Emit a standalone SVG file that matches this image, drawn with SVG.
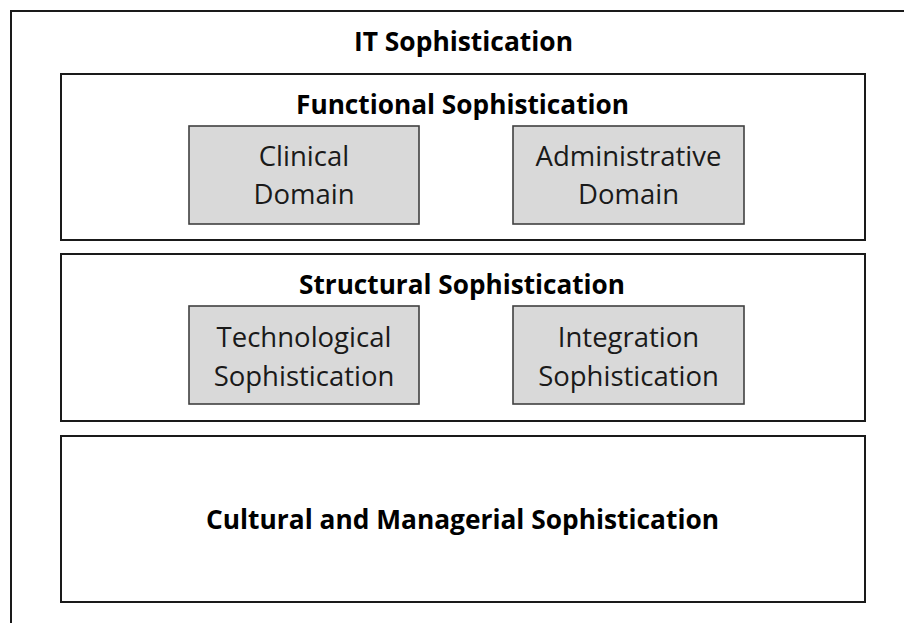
<svg xmlns="http://www.w3.org/2000/svg" width="904" height="623" viewBox="0 0 904 623">
<style>
.frame{fill:#ffffff;stroke:#1a1a1a;stroke-width:2}
.sub{fill:#d9d9d9;stroke:#404040;stroke-width:1.6}
.h{font-family:"Open Sans","Liberation Sans",sans-serif;font-weight:bold;font-size:26px;fill:#000;text-anchor:middle}
.t{font-family:"Open Sans","Liberation Sans",sans-serif;font-size:27.5px;fill:#1a1a1a;text-anchor:middle}
</style>
<rect width="904" height="623" fill="#ffffff"/>
<g id="it-sophistication">
<rect class="frame" x="11" y="11" width="920" height="700"/>
<text class="h" x="463.5" y="51" textLength="219" lengthAdjust="spacingAndGlyphs">IT Sophistication</text>
</g>
<g id="functional">
<rect class="frame" x="61" y="74" width="804" height="166"/>
<text class="h" x="462.5" y="114" textLength="333" lengthAdjust="spacingAndGlyphs">Functional Sophistication</text>
</g>
<g id="clinical">
<rect class="sub" x="189" y="126" width="230" height="98"/>
<text class="t" x="304" y="166">Clinical</text>
<text class="t" x="304" y="204">Domain</text>
</g>
<g id="administrative">
<rect class="sub" x="513" y="126" width="231" height="98"/>
<text class="t" x="628.5" y="166">Administrative</text>
<text class="t" x="628.5" y="204">Domain</text>
</g>
<g id="structural">
<rect class="frame" x="61" y="254" width="804" height="167"/>
<text class="h" x="462" y="294" textLength="326" lengthAdjust="spacingAndGlyphs">Structural Sophistication</text>
</g>
<g id="technological">
<rect class="sub" x="189" y="306" width="230" height="98"/>
<text class="t" x="304" y="347">Technological</text>
<text class="t" x="304" y="386">Sophistication</text>
</g>
<g id="integration">
<rect class="sub" x="513" y="306" width="231" height="98"/>
<text class="t" x="628.5" y="347">Integration</text>
<text class="t" x="628.5" y="386">Sophistication</text>
</g>
<g id="cultural">
<rect class="frame" x="61" y="436" width="804" height="166"/>
<text class="h" x="462.5" y="529" textLength="513" lengthAdjust="spacingAndGlyphs">Cultural and Managerial Sophistication</text>
</g>
<g id="connectors"/>
</svg>
